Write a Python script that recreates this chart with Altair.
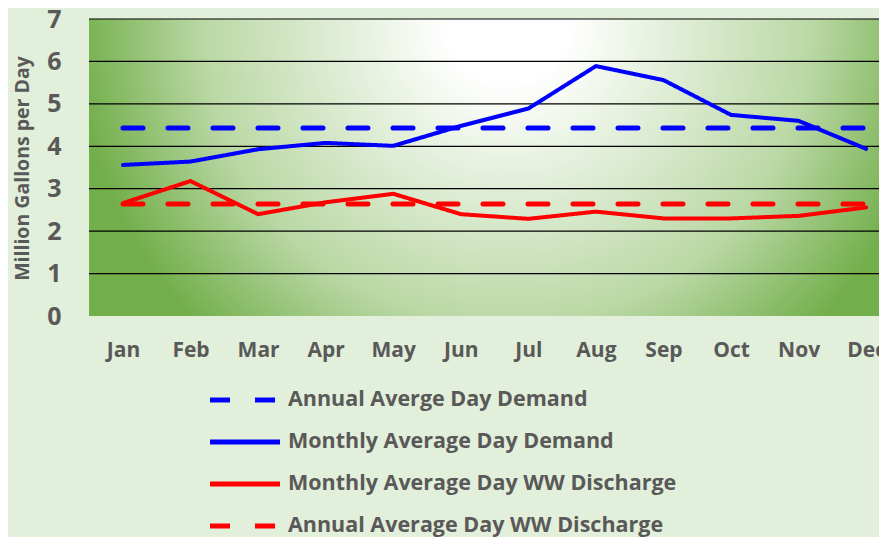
import altair as alt
import pandas as pd

months = ["Jan", "Feb", "Mar", "Apr", "May", "Jun", "Jul", "Aug", "Sep", "Oct", "Nov", "Dec"]
monthly_demand = [3.56, 3.64, 3.93, 4.08, 4.01, 4.48, 4.89, 5.89, 5.56, 4.74, 4.60, 3.94]
monthly_ww = [2.66, 3.18, 2.40, 2.68, 2.88, 2.40, 2.29, 2.46, 2.30, 2.30, 2.36, 2.56]
annual_demand = 4.43
annual_ww = 2.64
y_ticks = [0, 1, 2, 3, 4, 5, 6, 7]
x_domain = [-0.503, 11.19]
y_domain = [0, 7]

series_names = [
    "Annual Averge Day Demand",
    "Monthly Average Day Demand",
    "Monthly Average Day WW Discharge",
    "Annual Average Day WW Discharge",
]
series_colors = ["#0000ff", "#0000ff", "#ff0000", "#ff0000"]
series_dash = [[20, 25], [1, 0], [1, 0], [20, 25]]

rows = []
for i, m in enumerate(months):
    rows.append({"idx": i, "month": m, "series": series_names[0], "value": annual_demand, "kind": "dash"})
    rows.append({"idx": i, "month": m, "series": series_names[1], "value": monthly_demand[i], "kind": "solid"})
    rows.append({"idx": i, "month": m, "series": series_names[2], "value": monthly_ww[i], "kind": "solid"})
    rows.append({"idx": i, "month": m, "series": series_names[3], "value": annual_ww, "kind": "dash"})
df = pd.DataFrame(rows)

bg_df = pd.DataFrame([{"x": x_domain[0], "x2": x_domain[1], "y": y_domain[0], "y2": y_domain[1]}])
grid_df = pd.DataFrame({"v": [t for t in y_ticks if t != 0]})

TXT = "#595959"
FONT = "Open Sans"

month_js = "[" + ",".join("'%s'" % m for m in months) + "]"

x_scale = alt.Scale(domain=x_domain, nice=False, zero=False)
y_scale = alt.Scale(domain=y_domain, nice=False)

x_axis = alt.Axis(
    values=list(range(12)),
    labelExpr=month_js + "[datum.value]",
    grid=False, domain=False, ticks=False,
    labelFont=FONT, labelFontSize=21, labelFontWeight="bold", labelColor=TXT,
    labelPadding=23, labelOverlap=False, labelFlush=False,
    title=None,
)
y_axis = alt.Axis(
    values=y_ticks,
    grid=False, domain=False, ticks=False,
    labelFont=FONT, labelFontSize=25, labelFontWeight="bold", labelColor=TXT,
    labelPadding=28,
    title="Million Gallons per Day",
    titleFont=FONT, titleFontSize=19.5, titleFontWeight="bold", titleColor=TXT,
    titleX=-67, titleY=149, titleAngle=270, titleAlign="center", titleBaseline="middle",
)

legend = alt.Legend(
    title=None, orient="none", legendX=136, legendY=361, direction="vertical",
    symbolType="M-2,0H2", symbolSize=1225, symbolStrokeWidth=5,
    labelFont=FONT, labelFontSize=21.5, labelFontWeight="bold", labelColor=TXT,
    labelLimit=600, labelOffset=23, rowPadding=11,
)

color_enc = alt.Color("series:N", scale=alt.Scale(domain=series_names, range=series_colors), legend=legend)
dash_enc = alt.StrokeDash("series:N", scale=alt.Scale(domain=series_names, range=series_dash), legend=legend)

gradient = {
    "gradient": "radial",
    "x1": 0.53, "y1": 0.314, "r1": 0,
    "x2": 0.53, "y2": 0.314, "r2": 0.55,
    "stops": [
        {"offset": 0, "color": "#ffffff"},
        {"offset": 0.14, "color": "#ffffff"},
        {"offset": 0.7, "color": "#bad8a5"},
        {"offset": 1, "color": "#72ae4a"},
    ],
}

bg = alt.Chart(bg_df).mark_rect(fill=gradient, strokeWidth=0).encode(
    x=alt.X("x:Q", scale=x_scale, axis=x_axis),
    x2="x2:Q",
    y=alt.Y("y:Q", scale=y_scale, axis=y_axis),
    y2="y2:Q",
)

grid = alt.Chart(grid_df).mark_rule(color="#000000", strokeWidth=1.2).encode(
    y=alt.Y("v:Q", scale=y_scale, axis=y_axis),
)

base = alt.Chart(df).encode(
    x=alt.X("idx:Q", scale=x_scale, axis=x_axis),
    y=alt.Y("value:Q", scale=y_scale, axis=y_axis),
    color=color_enc, strokeDash=dash_enc, detail="series:N",
)

dashed = base.transform_filter(alt.datum.kind == "dash").mark_line(strokeWidth=5, strokeCap="round")
solid = base.transform_filter(alt.datum.kind == "solid").mark_line(strokeWidth=4, strokeCap="round", strokeJoin="round")

chart = (
    alt.layer(bg, grid, dashed, solid)
    .properties(
        width=790, height=297,
        autosize=alt.AutoSizeParams(type="none"),
        padding={"left": 81, "top": 11, "right": 0, "bottom": 221},
    )
    .configure(background="#e2efda")
    .configure_view(strokeWidth=0)
)

chart.save("out.html", embed_options={"renderer": "svg", "actions": False})
